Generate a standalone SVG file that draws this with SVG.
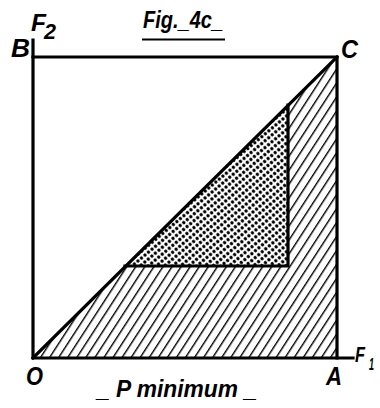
<svg xmlns="http://www.w3.org/2000/svg" width="380" height="408" viewBox="0 0 380 408">
<style>
.lbl{font-family:"Liberation Sans",Arial,sans-serif;font-style:italic;font-weight:bold;fill:#000}
.thick{fill:none;stroke:#000;stroke-width:3.2;stroke-linecap:square;stroke-linejoin:miter}
</style>
<defs>
<pattern id="hatch" patternUnits="userSpaceOnUse" width="7.6" height="20" patternTransform="rotate(33)">
<rect x="0" y="0" width="1.4" height="20" fill="#000"/>
</pattern>
<pattern id="dots" patternUnits="userSpaceOnUse" width="4.6" height="5.2" patternTransform="rotate(-40)">
<circle cx="2.3" cy="2.6" r="1.65" fill="#000"/>
</pattern>
</defs>
<rect width="380" height="408" fill="#fff"/>
<g id="hatched-region">
<polygon points="33,358 337,57 337,358" fill="url(#hatch)"/>
</g>
<g id="dotted-triangle">
<polygon points="125,266 288,105 288,266" fill="#fff"/>
<polygon points="125,266 288,105 288,266" fill="url(#dots)"/>
</g>
<g id="connectors">
<path class="thick" d="M33,40 V358 H353"/>
<path class="thick" d="M33,57 H337 V358"/>
<path class="thick" d="M33,358 L337,57"/>
<path class="thick" d="M125,266 H288 V105"/>
<line x1="142" y1="39.5" x2="225" y2="39.5" stroke="#000" stroke-width="2"/>
</g>
<g id="labels">
<text class="lbl" x="143" y="28" font-size="24" textLength="80" lengthAdjust="spacingAndGlyphs">Fig._4c_</text>
<text class="lbl" x="31" y="31" font-size="24" textLength="15" lengthAdjust="spacingAndGlyphs">F</text>
<text class="lbl" x="44" y="39" font-size="22" textLength="12" lengthAdjust="spacingAndGlyphs">2</text>
<text class="lbl" x="11" y="57" font-size="25" textLength="19" lengthAdjust="spacingAndGlyphs">B</text>
<text class="lbl" x="341" y="58" font-size="25" textLength="17" lengthAdjust="spacingAndGlyphs">C</text>
<text class="lbl" x="26" y="385" font-size="25" textLength="17" lengthAdjust="spacingAndGlyphs">O</text>
<text class="lbl" x="326" y="385" font-size="25" textLength="16" lengthAdjust="spacingAndGlyphs">A</text>
<text class="lbl" x="355" y="362" font-size="22" textLength="10" lengthAdjust="spacingAndGlyphs">F</text>
<text class="lbl" x="369" y="370" font-size="17" textLength="5" lengthAdjust="spacingAndGlyphs">1</text>
<text class="lbl" x="97" y="397" font-size="24" textLength="160" lengthAdjust="spacingAndGlyphs">_ P minimum _</text>
</g>
</svg>
